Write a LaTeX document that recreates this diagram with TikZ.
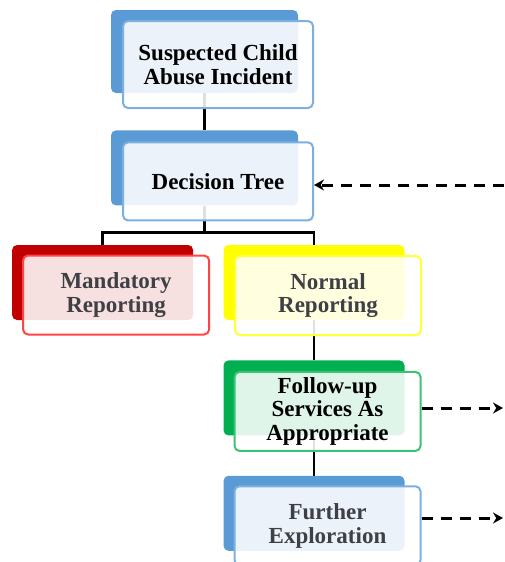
\documentclass[tikz,border=0pt]{standalone}
\usepackage{fontspec}
\setmainfont{Liberation Serif}
\usetikzlibrary{positioning,arrows.meta,backgrounds}

\definecolor{bluebk}{HTML}{5B9BD5}
\definecolor{blueln}{HTML}{7DB0E0}
\definecolor{redbk}{HTML}{C00000}
\definecolor{redln}{HTML}{FF4444}
\definecolor{yelbk}{HTML}{FFFF00}
\definecolor{yelln}{HTML}{FFFF3A}
\definecolor{grnbk}{HTML}{00B050}
\definecolor{grnln}{HTML}{3CC274}
\definecolor{txtgray}{HTML}{3F3F46}

\begin{document}
\begin{tikzpicture}[
    font=\fontsize{23}{23.5}\selectfont\bfseries,
    base/.style={rectangle,rounded corners=5pt,inner sep=0pt,align=center},
    backbox/.style={base,minimum width=181pt,minimum height=75pt},
    bigback/.style={backbox,minimum width=187pt},
    frontbox/.style={base,line width=2pt,fill=white,fill opacity=0.88,text opacity=1,minimum width=186pt,minimum height=79pt},
    bigfront/.style={frontbox,minimum width=190pt,minimum height=78pt},
    link/.style={line width=2.4pt},
    dashlink/.style={line width=3pt,dash pattern=on 11pt off 8pt,-{Stealth[length=10pt,width=11pt]}}
  ]

  \useasboundingbox (0,0) rectangle (504pt,-562pt);

  % back boxes
  \node(sciB) [bigback,fill=bluebk,minimum height=83pt] at (204.5pt,-51.5pt) {};
  \node(dtB) [bigback,fill=bluebk,below=37pt of sciB] {};
  \node(normB) [backbox,fill=yelbk] at (314pt,-282.5pt) {};
  \node(mandB) [backbox,fill=redbk,left=30pt of normB] {};
  \node(fuB) [backbox,fill=grnbk,below=40pt of normB] {};
  \node(feB) [backbox,fill=bluebk,below=40pt of fuB] {};

  % connectors
  \begin{scope}[on background layer]
    \coordinate(fork) at ([yshift=-27pt]dtB.south);
    \draw[link] (sciB) -- (dtB);
    \draw[link] (dtB) -- (fork) -| (mandB);
    \draw[link] (fork) -| (normB);
    \draw[link] (normB) -- (fuB);
    \draw[link] (fuB) -- (feB);
  \end{scope}

  % front boxes
  \node(sci) [bigfront,draw=blueln,minimum height=87pt] at ([xshift=13.5pt,yshift=-13pt]sciB.center) {Suspected Child\\Abuse Incident};
  \node(dt) [bigfront,draw=blueln] at ([xshift=13.5pt,yshift=-13.5pt]dtB.center) {Decision Tree};
  \node(mand) [frontbox,draw=redln,text=txtgray] at ([xshift=13.5pt,yshift=-12.5pt]mandB.center) {Mandatory\\Reporting};
  \node(norm) [frontbox,draw=yelln,text=txtgray] at ([xshift=14pt,yshift=-13pt]normB.center) {Normal\\Reporting};
  \node(fu) [frontbox,draw=grnln] at ([xshift=13.5pt,yshift=-13.5pt]fuB.center) {Follow-up\\Services As\\Appropriate};
  \node(fe) [frontbox,draw=blueln,text=txtgray] at ([xshift=13.5pt,yshift=-12.5pt]feB.center) {Further\\Exploration};

  % dashed arrows
  \coordinate(dtIn) at (504pt,-185pt);
  \coordinate(fuOut) at (503pt,-408pt);
  \coordinate(feOut) at (503pt,-518pt);
  \draw[dashlink] (dtIn) -- (dtIn -| dt.east);
  \draw[dashlink] (fuOut -| fu.east) -- (fuOut);
  \draw[dashlink] (feOut -| fe.east) -- (feOut);

\end{tikzpicture}
\end{document}
